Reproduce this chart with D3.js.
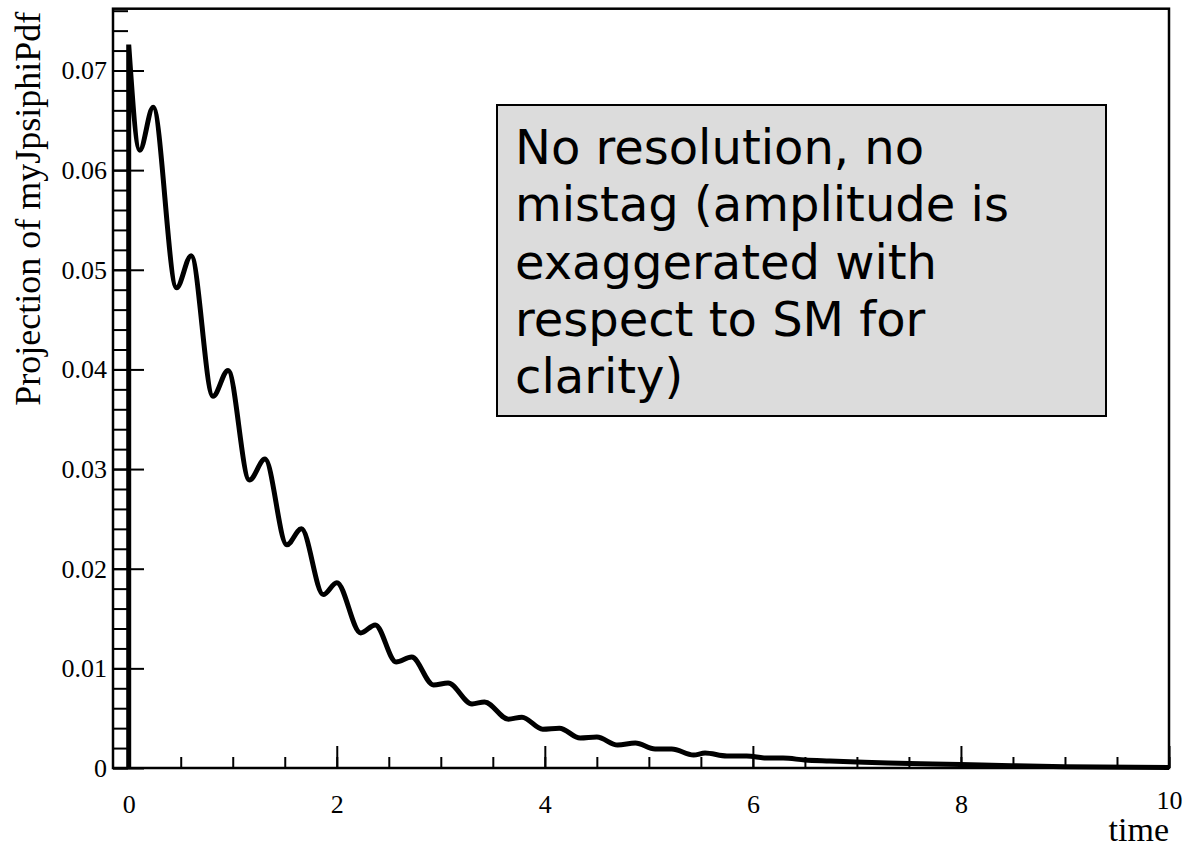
<!DOCTYPE html>
<html>
<head>
<meta charset="utf-8">
<script src="https://cdn.jsdelivr.net/npm/d3@7"></script>
<style>
  html, body { margin: 0; padding: 0; background: #ffffff; }
  svg { display: block; }
  .serif { font-family: "Liberation Serif", "DejaVu Serif", serif; fill: #000; }
  .note { font-family: "DejaVu Sans", "Noto Sans", sans-serif; fill: #000; }
</style>
</head>
<body>
<svg id="chart" width="1184" height="848"></svg>
<script>
// Decay-time projection of the J/psi phi PDF: sampled curve (time, density)
const curveTime = [
  0, 0.106, 0.235, 0.46, 0.60, 0.81, 0.955, 1.16, 1.31, 1.52, 1.66, 1.87, 2.0,
  2.23, 2.37, 2.57, 2.72, 2.93, 3.07, 3.30, 3.42, 3.65, 3.78, 3.98, 4.14,
  4.34, 4.50, 4.70, 4.87, 5.06, 5.22, 5.43, 5.54, 5.75, 5.94, 6.13, 6.29,
  6.5, 6.74, 7.0, 7.3, 7.73, 8.2, 9.0, 10.0
];
const curveValue = [
  0.0726, 0.0620, 0.0663, 0.0482, 0.0514, 0.0373, 0.0399, 0.0289, 0.0310, 0.0224, 0.0240, 0.0174, 0.0186,
  0.01355, 0.01436, 0.01064, 0.01114, 0.00833, 0.00853, 0.00643, 0.00663, 0.0049, 0.0051, 0.0039, 0.0040,
  0.0030, 0.0031, 0.0023, 0.0025, 0.0019, 0.0019, 0.0013, 0.0015, 0.0012, 0.0012, 0.0010, 0.0010,
  0.0008, 0.0007, 0.0006, 0.0005, 0.0004, 0.0003, 0.00012, 0.00005
];

// Axis ticks and labels
const xTickValues = [0, 2, 4, 6, 8, 10];
const xTickLabels = ["0", "2", "4", "6", "8", "10"];
const yTickValues = [0, 0.01, 0.02, 0.03, 0.04, 0.05, 0.06, 0.07];
const yTickLabels = ["0", "0.01", "0.02", "0.03", "0.04", "0.05", "0.06", "0.07"];
const xTitle = "time";
const yTitle = "Projection of myJpsiphiPdf";

// Annotation box text
const noteLines = [
  "No resolution, no",
  "mistag (amplitude is",
  "exaggerated with",
  "respect to SM for",
  "clarity)"
];

const svg = d3.select("#chart");
const frame = { left: 113, right: 1169, top: 8.7, bottom: 768 };

const x = d3.scaleLinear().domain([-0.151, 10]).range([frame.left, frame.right]);
const y = d3.scaleLinear().domain([0, 0.0762]).range([frame.bottom, frame.top]);

// Minor tick positions
const xMinor = d3.range(0, 10.001, 0.5).map(v => +v.toFixed(2));
const yMinor = d3.range(0, 0.0761, 0.002).map(v => +v.toFixed(4));

// Frame box
svg.append("rect")
  .attr("x", frame.left).attr("y", frame.top)
  .attr("width", frame.right - frame.left)
  .attr("height", frame.bottom - frame.top)
  .attr("fill", "none").attr("stroke", "#000").attr("stroke-width", 2.5);

// Y axis: minor ticks, then major ticks with labels
const yMinorAxis = d3.axisLeft(y).tickValues(yMinor).tickSizeInner(-15).tickSizeOuter(0).tickFormat("");
svg.append("g").attr("transform", `translate(${frame.left},0)`).call(yMinorAxis)
  .call(g => g.select(".domain").remove())
  .call(g => g.selectAll("line").attr("stroke-width", 2));

const yAxis = d3.axisLeft(y).tickValues(yTickValues).tickSizeInner(-31).tickSizeOuter(0)
  .tickPadding(6).tickFormat((d, i) => yTickLabels[i]);
svg.append("g").attr("transform", `translate(${frame.left},0)`).call(yAxis)
  .call(g => g.select(".domain").remove())
  .call(g => g.selectAll("line").attr("stroke-width", 2))
  .call(g => g.selectAll("text").attr("class", "serif").style("font-size", "26px"));

// X axis: minor ticks, then major ticks with labels
const xMinorAxis = d3.axisBottom(x).tickValues(xMinor).tickSizeInner(-11).tickSizeOuter(0).tickFormat("");
svg.append("g").attr("transform", `translate(0,${frame.bottom})`).call(xMinorAxis)
  .call(g => g.select(".domain").remove())
  .call(g => g.selectAll("line").attr("stroke-width", 2));

const xAxis = d3.axisBottom(x).tickValues(xTickValues).tickSizeInner(-22).tickSizeOuter(0)
  .tickPadding(27).tickFormat((d, i) => xTickLabels[i]);
svg.append("g").attr("transform", `translate(0,${frame.bottom})`).call(xAxis)
  .call(g => g.select(".domain").remove())
  .call(g => g.selectAll("line").attr("stroke-width", 2))
  .call(g => g.selectAll("text").attr("class", "serif").style("font-size", "26px"))
  // the last label sits a little higher to clear the axis title
  .call(g => g.selectAll("text").filter(d => d === 10).attr("dy", "0.55em"));

// Axis titles
svg.append("text").attr("class", "serif")
  .attr("x", frame.right).attr("y", 841)
  .attr("text-anchor", "end").style("font-size", "34px")
  .text(xTitle);

svg.append("text").attr("class", "serif")
  .attr("transform", `translate(40,${frame.top + 3}) rotate(-90)`)
  .attr("text-anchor", "end").style("font-size", "36px")
  .text(yTitle);

// Curve: vertical rise at t = 0, then smooth oscillating decay
const pts = curveTime.map((t, i) => [x(t), y(curveValue[i])]);
const decay = d3.line().curve(d3.curveMonotoneX)(pts);
const pathD = `M${x(0)},${y(0)}L` + decay.slice(1);
svg.append("path")
  .attr("d", pathD)
  .attr("fill", "none")
  .attr("stroke", "#000")
  .attr("stroke-width", 5)
  .attr("stroke-linejoin", "miter");

// Annotation box
const box = { x0: 497, x1: 1106, y0: 105, y1: 416 };
svg.append("rect")
  .attr("x", box.x0).attr("y", box.y0)
  .attr("width", box.x1 - box.x0).attr("height", box.y1 - box.y0)
  .attr("fill", "#dcdcdc").attr("stroke", "#000").attr("stroke-width", 2);

const firstBaseline = box.y0 + 59;
const lineGap = 57.3;
svg.append("g").selectAll("text")
  .data(noteLines)
  .join("text")
  .attr("class", "note")
  .attr("x", 515)
  .attr("y", (d, i) => firstBaseline + lineGap * i)
  .style("font-size", "48px")
  .text(d => d);
</script>
</body>
</html>
